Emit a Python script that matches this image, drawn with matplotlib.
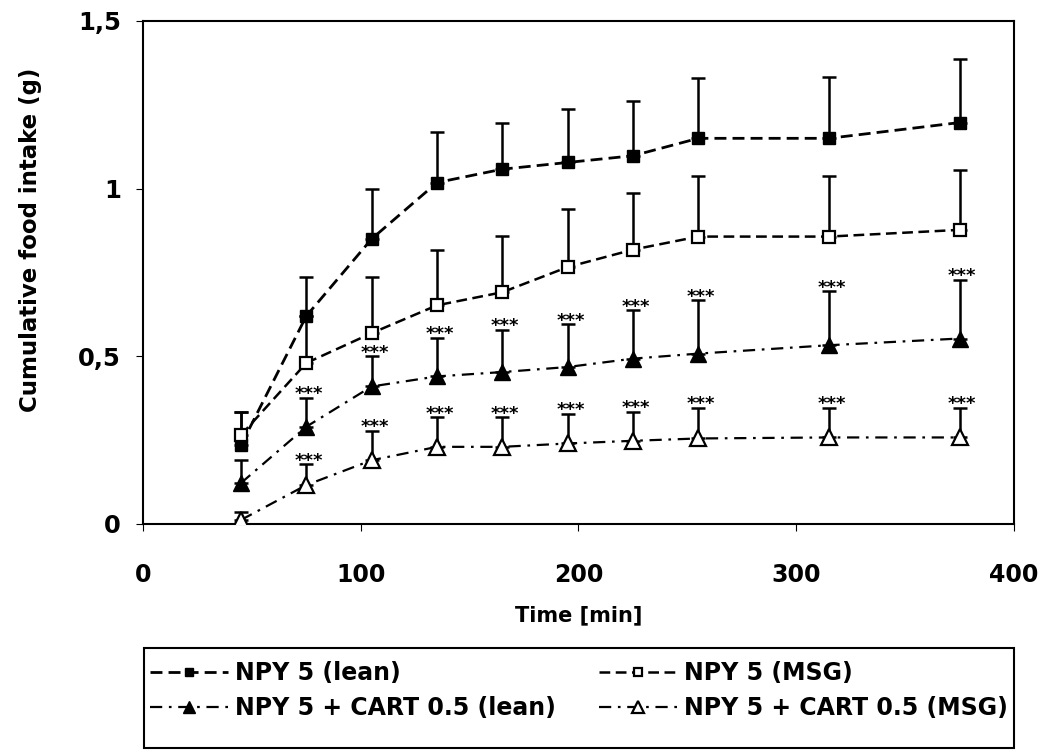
import numpy as np
import matplotlib
matplotlib.use("Agg")
import matplotlib.pyplot as plt
from matplotlib.patches import Rectangle

plt.rcParams['font.family'] = ['DejaVu Sans']
plt.rcParams['font.weight'] = 'bold'

# time points (min)
t = [45, 75, 105, 135, 165, 195, 225, 255, 315, 375]

# mean cumulative intake (g) and top of error bar
npy_lean = [0.235, 0.62, 0.85, 1.018, 1.058, 1.078, 1.098, 1.15, 1.15, 1.197]
npy_lean_up = [0.335, 0.737, 1.0, 1.168, 1.196, 1.237, 1.262, 1.329, 1.334, 1.388]
npy_msg = [0.265, 0.48, 0.569, 0.652, 0.691, 0.766, 0.818, 0.857, 0.857, 0.877]
npy_msg_up = [0.335, 0.62, 0.736, 0.818, 0.858, 0.94, 0.986, 1.037, 1.037, 1.056]
cart_lean = [0.122, 0.29, 0.41, 0.44, 0.453, 0.468, 0.493, 0.508, 0.533, 0.553]
cart_lean_up = [0.19, 0.376, 0.50, 0.556, 0.579, 0.595, 0.637, 0.667, 0.694, 0.729]
cart_msg = [0.012, 0.116, 0.19, 0.23, 0.23, 0.24, 0.248, 0.255, 0.258, 0.258]
cart_msg_up = [0.035, 0.178, 0.277, 0.318, 0.318, 0.329, 0.334, 0.347, 0.347, 0.347]

# which points carry "***"
sig_lean = [False] + [True] * 9
sig_msg = [False] + [True] * 9

labels = ["NPY 5 (lean)", "NPY 5 (MSG)", "NPY 5 + CART 0.5 (lean)", "NPY 5 + CART 0.5 (MSG)"]

fig = plt.figure(figsize=(10.46, 7.51), dpi=100)
ax = fig.add_axes([0.1367, 0.3023, 0.8327, 0.6698])

dash = (0, (4.3, 2.2))
dashdot = (0, (5.5, 3, 1.2, 3))

series = [
    (npy_lean, npy_lean_up, dict(ls=dash, lw=2.0, marker='s', ms=9, mfc='black', mec='black')),
    (npy_msg, npy_msg_up, dict(ls=dash, lw=1.8, marker='s', ms=9, mfc='white', mec='black', mew=1.6)),
    (cart_lean, cart_lean_up, dict(ls=dashdot, lw=1.6, marker='^', ms=12, mfc='black', mec='black')),
    (cart_msg, cart_msg_up, dict(ls=dashdot, lw=1.6, marker='^', ms=12, mfc='white', mec='black', mew=1.6)),
]

tt = np.array(t)
handles = []
for (y, up, style), lab in zip(series, labels):
    y = np.array(y)
    up = np.array(up)
    ax.errorbar(tt, y, yerr=[np.zeros_like(y), up - y], fmt='none', ecolor='black',
                elinewidth=1.8, capsize=5.2, capthick=1.8, zorder=2)
    h, = ax.plot(tt, y, color='black', label=lab, zorder=3, **style)
    handles.append(h)

for x, u, s in zip(t, cart_lean_up, sig_lean):
    if s:
        ax.annotate("***", (x, u), xytext=(2, -1), textcoords='offset points',
                    ha='center', va='baseline', fontsize=13, fontweight='bold')
for x, u, s in zip(t, cart_msg_up, sig_msg):
    if s:
        ax.annotate("***", (x, u), xytext=(2, -1), textcoords='offset points',
                    ha='center', va='baseline', fontsize=13, fontweight='bold')

ax.set_xlim(0, 400)
ax.set_ylim(0, 1.5)
ax.set_xticks([0, 100, 200, 300, 400])
ax.set_yticks([0, 0.5, 1, 1.5])
ax.set_yticklabels(["0", "0,5", "1", "1,5"])
ax.tick_params(axis='x', direction='out', length=5, width=0.8, pad=23, labelsize=17)
ax.tick_params(axis='y', direction='out', length=5, width=0.8, pad=11, labelsize=17.5)
for sp in ax.spines.values():
    sp.set_linewidth(1.5)

ax.set_xlabel("Time [min]", fontsize=15, fontweight='bold', labelpad=13)
ax.set_ylabel("Cumulative food intake (g)", fontsize=16.5, fontweight='bold')
ax.yaxis.set_label_coords(-0.116, 0.565)

# legend box: frame drawn separately, reaches down to the image edge
fig.patches.append(Rectangle((144 / 1046, 3 / 751), 870 / 1046, 100 / 751,
                             transform=fig.transFigure, fill=False,
                             edgecolor='black', lw=1.5))
order = [0, 2, 1, 3]
leg = fig.legend([handles[i] for i in order], [labels[i] for i in order], ncol=2,
                 loc='upper left', bbox_to_anchor=(144 / 1046, 0.0, 870 / 1046, 96 / 751),
                 bbox_transform=fig.transFigure, mode='expand', borderaxespad=0,
                 prop={'size': 17, 'weight': 'bold'}, frameon=False,
                 handlelength=3.3, handletextpad=0.3, labelspacing=0.47,
                 columnspacing=1.0, markerscale=0.7, numpoints=1, borderpad=0.25)

fig.savefig("out.png", dpi=100)
